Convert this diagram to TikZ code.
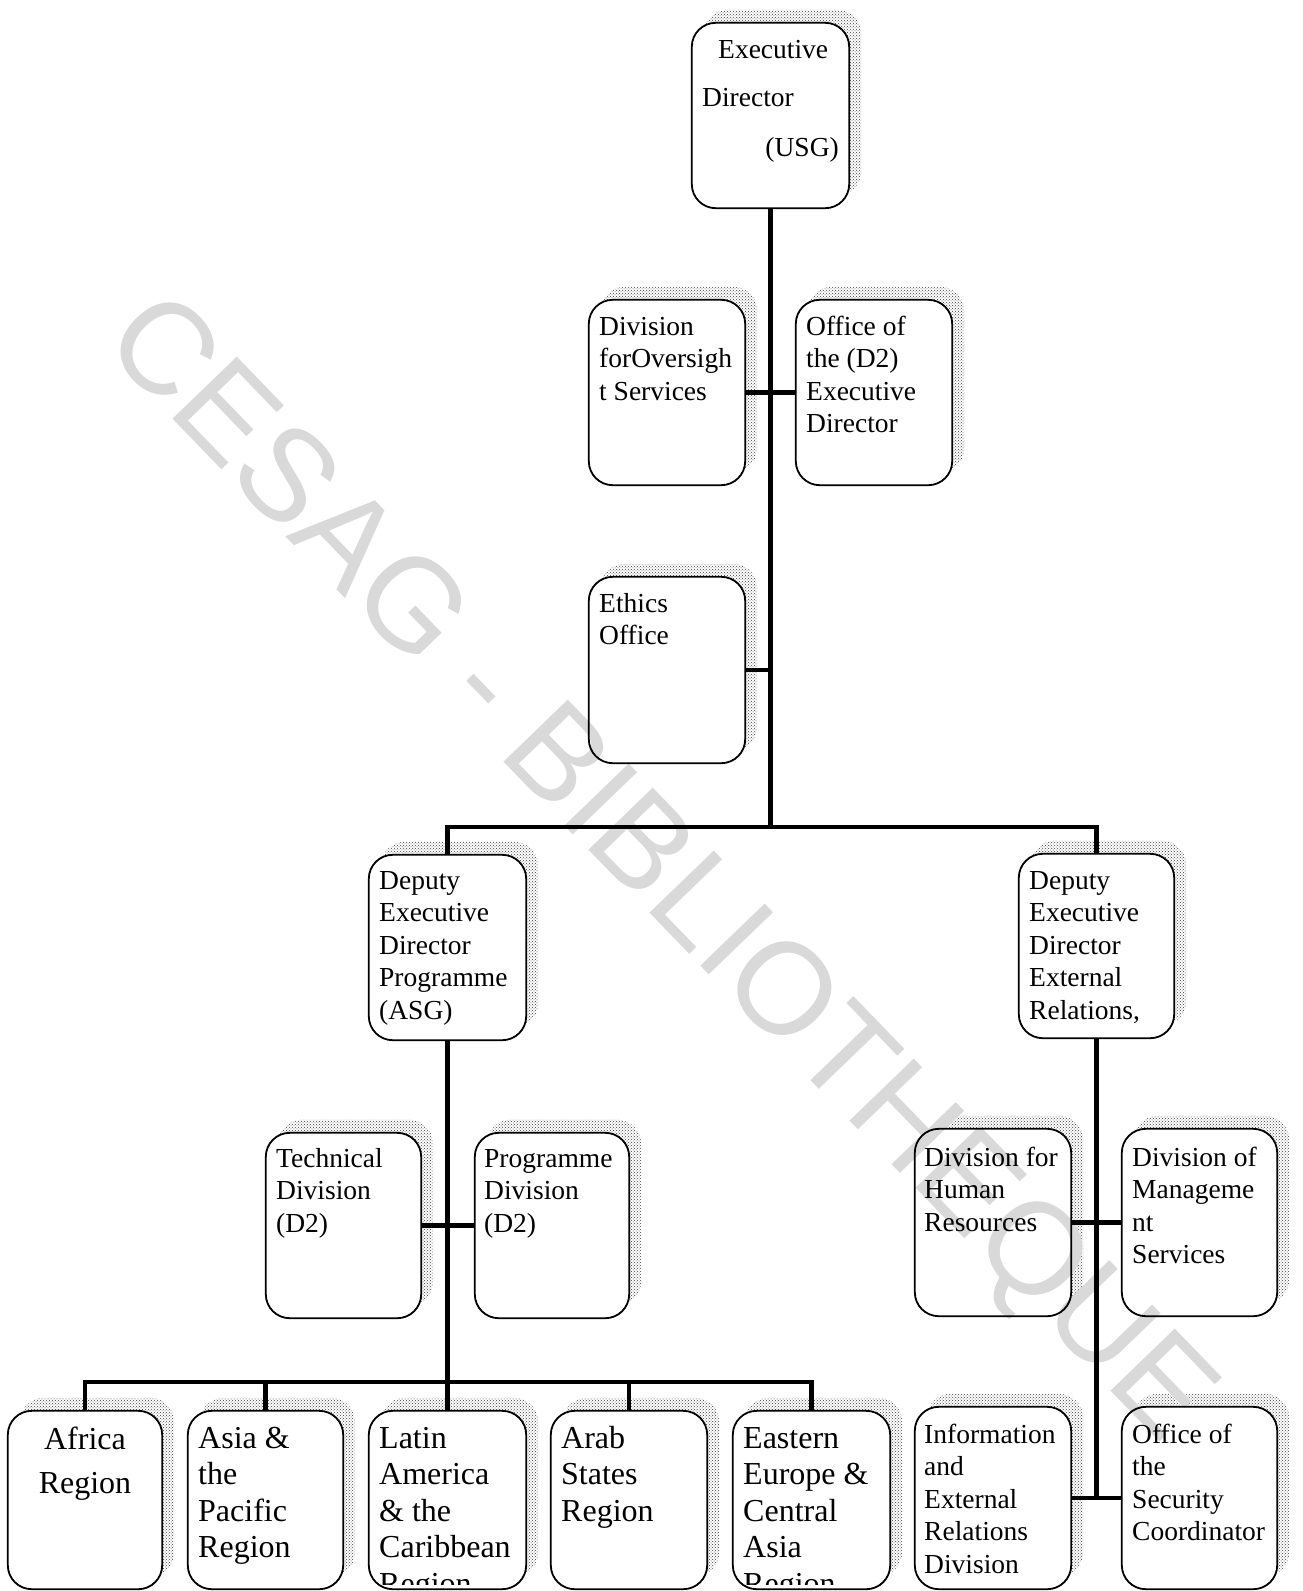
\documentclass[tikz,border=0pt]{standalone}
\usepackage{fontspec}
\setmainfont{Liberation Serif}
\newfontfamily\wmfont{Liberation Sans}
\usetikzlibrary{patterns,fit,calc}
\tikzset{
  boxn/.style={inner sep=0pt, draw=none},
  border/.style={draw=black, line width=1.8pt, rounded corners=24pt},
  shadowpat/.style={pattern=crosshatch dots, pattern color=black!75, rounded corners=24pt},
  link/.style={draw=black, line width=4.5pt, line join=miter},
  txt/.style={inner sep=0pt, anchor=north west, align=left, font=\fontsize{27.5}{32.5}\selectfont},
  bigtxt/.style={inner sep=0pt, anchor=north west, align=left, font=\fontsize{32}{36.5}\selectfont},
  wm/.style={inner sep=0pt, text=black!15, font=\wmfont\fontsize{130}{130}\selectfont}
}
\begin{document}
\begin{tikzpicture}[x=1pt,y=-1pt]
\useasboundingbox (0,0) rectangle (1302,1591);
\fill[white] (0,0) rectangle (1302,1591);
% box frames
\node[boxn, fit={(692,23)(849,208)}] (ed) {};
\node[boxn, fit={(589,300)(745,485)}] (ovs) {};
\node[boxn, fit={(796,300)(952,485)}] (od2) {};
\node[boxn, fit={(589,577)(745,763)}] (eth) {};
\node[boxn, fit={(369,855)(526,1040)}] (dp) {};
\node[boxn, fit={(1019,854)(1174,1038)}] (de) {};
\node[boxn, fit={(266,1133)(421,1318)}] (tech) {};
\node[boxn, fit={(475,1133)(629,1318)}] (prog) {};
\node[boxn, fit={(915,1129)(1071,1316)}] (hr) {};
\node[boxn, fit={(1122,1129)(1277,1316)}] (mgmt) {};
\node[boxn, fit={(915,1407)(1071,1589)}] (info) {};
\node[boxn, fit={(1122,1407)(1277,1589)}] (sec) {};
\node[boxn, fit={(8,1411)(162,1589)}] (afr) {};
\node[boxn, fit={(188,1411)(343,1589)}] (asia) {};
\node[boxn, fit={(369,1411)(526,1589)}] (lat) {};
\node[boxn, fit={(551,1411)(707,1589)}] (arab) {};
\node[boxn, fit={(733,1411)(890,1589)}] (east) {};
% shadows and white fills
\foreach \n in {ed,ovs,od2,eth,dp,de,tech,prog,hr,mgmt,info,sec,afr,asia,lat,arab,east}{
  \fill[shadowpat] ([shift={(12,-13)}]\n.north west) rectangle ([shift={(12,-13)}]\n.south east);
  \fill[white, rounded corners=24pt] (\n.north west) rectangle (\n.south east);
}
% watermark
\node[wm, rotate=-46] (wmark) at (656,872) {CESAG - BIBLIOTHEQUE};
% borders
\foreach \n in {ed,ovs,od2,eth,dp,de,tech,prog,hr,mgmt,info,sec,afr,asia,lat,arab,east}{
  \draw[border] (\n.north west) rectangle (\n.south east);
}
% connectors
\coordinate (bar) at (0,827);
\coordinate (bartwo) at (0,1382);
\draw[link] (ed.south) -- (ed.south |- bar);
\draw[link] (ovs.east) -- (od2.west);
\draw[link] (eth.east) -- (eth.east -| ed.south);
\draw[link] (dp.north) -- (dp.north |- bar) -- (de.north |- bar) -- (de.north);
\draw[link] (dp.south) -- (dp.south |- bartwo);
\draw[link] (tech.east) -- (prog.west);
\draw[link] (afr.north) -- (afr.north |- bartwo) -- (east.north |- bartwo) -- (east.north);
\draw[link] (asia.north |- bartwo) -- (asia.north);
\draw[link] (lat.north |- bartwo) -- (lat.north);
\draw[link] (arab.north |- bartwo) -- (arab.north);
\draw[link] (de.south) -- (de.south |- info.east);
\draw[link] (hr.east) -- (mgmt.west);
\draw[link] (info.east) -- (sec.west);
% texts
\node[txt, anchor=base west] (edta) at (718,58) {Executive};
\node[txt, anchor=base west] (edtb) at (702,106) {Director};
\node[txt, anchor=base east] (edtc) at (839,156) {(USG)};
\node[txt] (ovst) at (599,312.25) {\strut Division\\forOversigh\\t Services};
\node[txt] (od2t) at (806,312.25) {\strut Office of\\the (D2)\\Executive\\Director};
\node[txt] (etht) at (599,589.25) {\strut Ethics\\Office};
\node[txt] (dpt) at (379,866.25) {\strut Deputy\\Executive\\Director\\Programme\\(ASG)};
\node[txt] (det) at (1029,866.25) {\strut Deputy\\Executive\\Director\\External\\Relations,};
\node[txt] (techt) at (276,1144.25) {\strut Technical\\Division\\(D2)};
\node[txt] (progt) at (484,1144.25) {\strut Programme\\Division\\(D2)};
\node[txt] (hrt) at (924,1143.25) {\strut Division for\\Human\\Resources};
\node[txt] (mgmtt) at (1132,1143.25) {\strut Division of\\Manageme\\nt\\Services};
\node[txt] (infot) at (924,1420.25) {\strut Information\\and\\External\\Relations\\Division};
\node[txt] (sect) at (1132,1420.25) {\strut Office of\\the\\Security\\Coordinator};
\begin{scope}
\clip (0,0) rectangle (1302,1584);
\node[bigtxt, anchor=north, align=center, font=\fontsize{32}{44}\selectfont] (afrt) at (85,1418.2) {\strut Africa\\Region};
\node[bigtxt] (asiat) at (198,1422.45) {\strut Asia \&\\the\\Pacific\\Region};
\node[bigtxt] (latt) at (379,1422.45) {\strut Latin\\America\\\& the\\Caribbean\\Region};
\node[bigtxt] (arabt) at (561,1422.45) {\strut Arab\\States\\Region};
\node[bigtxt] (eastt) at (743,1422.45) {\strut Eastern\\Europe \&\\Central\\Asia\\Region};
\end{scope}
\end{tikzpicture}
\end{document}
